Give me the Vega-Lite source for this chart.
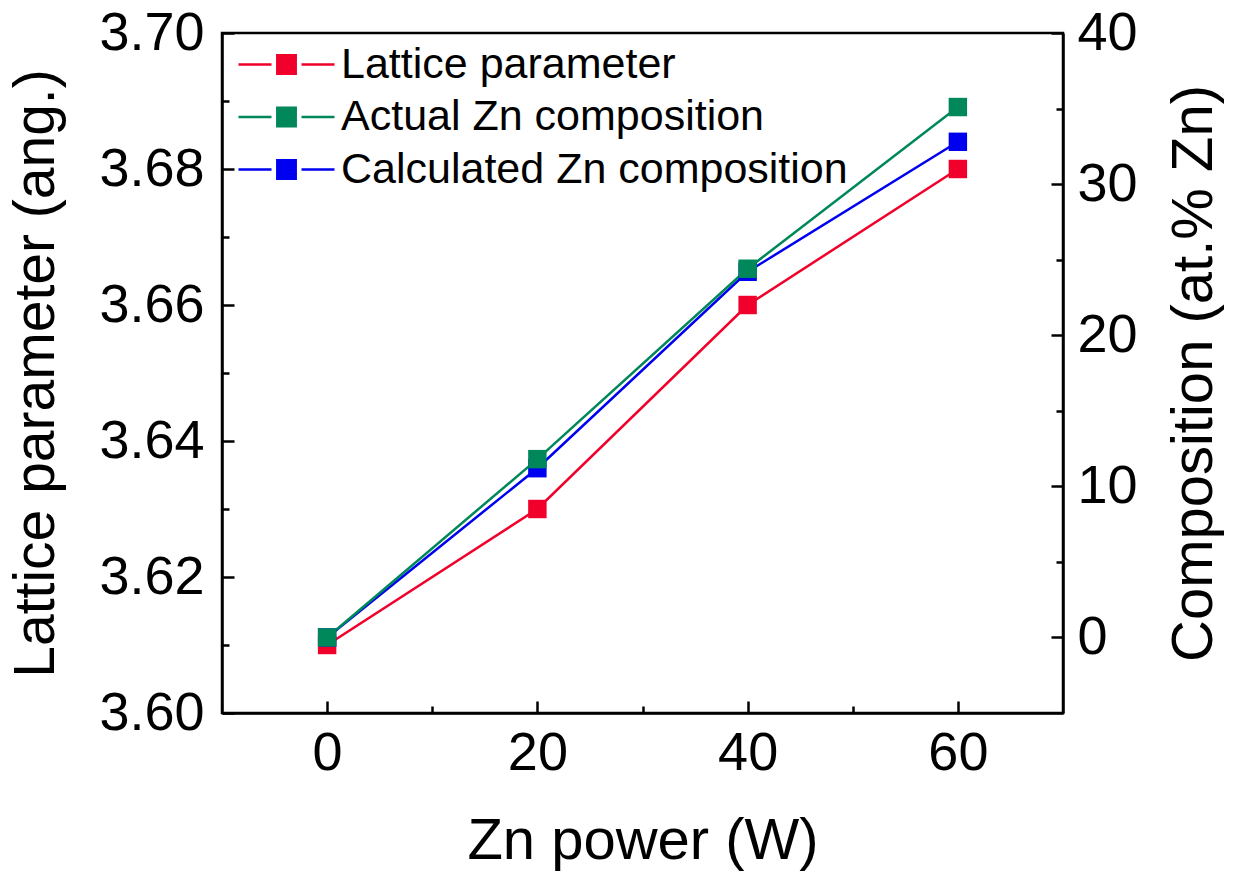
{
  "$schema": "https://vega.github.io/schema/vega-lite/v6.json",
  "width": 841,
  "height": 680,
  "autosize": "none",
  "padding": {"left": 222, "top": 33, "right": 174, "bottom": 163},
  "background": "white",
  "config": {
    "font": "Liberation Sans",
    "view": {"stroke": "black", "strokeWidth": 2.5},
    "axis": {
      "labelFont": "Liberation Sans",
      "titleFont": "Liberation Sans",
      "labelColor": "black",
      "titleColor": "black",
      "domainColor": "black",
      "tickColor": "black",
      "domainWidth": 2.5,
      "tickWidth": 2.5,
      "grid": false,
      "labelFlush": false,
      "labelOverlap": false,
      "titleFontWeight": "normal",
      "labelFontSize": 54,
      "titleFontSize": 57
    },
    "legend": {"labelFont": "Liberation Sans"}
  },
  "datasets": {
    "lattice": [
      {"power": 0, "value": 3.61, "series": "Lattice parameter"},
      {"power": 20, "value": 3.63, "series": "Lattice parameter"},
      {"power": 40, "value": 3.66, "series": "Lattice parameter"},
      {"power": 60, "value": 3.68, "series": "Lattice parameter"}
    ],
    "comp": [
      {"power": 0, "value": 0, "series": "Calculated Zn composition"},
      {"power": 20, "value": 11.2, "series": "Calculated Zn composition"},
      {"power": 40, "value": 24.2, "series": "Calculated Zn composition"},
      {"power": 60, "value": 32.8, "series": "Calculated Zn composition"},
      {"power": 0, "value": 0, "series": "Actual Zn composition"},
      {"power": 20, "value": 11.8, "series": "Actual Zn composition"},
      {"power": 40, "value": 24.4, "series": "Actual Zn composition"},
      {"power": 60, "value": 35.1, "series": "Actual Zn composition"}
    ]
  },
  "layer": [
    {
      "data": {"name": "lattice"},
      "mark": {"type": "line", "strokeWidth": 2.5},
      "encoding": {
        "x": {
          "field": "power", "type": "quantitative",
          "scale": {"domain": [-10, 70], "nice": false, "zero": false},
          "axis": {"orient": "bottom", "values": [0, 20, 40, 60], "tickSize": -12, "labelPadding": 25, "title": "Zn power (W)", "titlePadding": 32, "titleFontSize": 58}
        },
        "y": {
          "field": "value", "type": "quantitative",
          "scale": {"domain": [3.6, 3.7], "nice": false, "zero": false},
          "axis": {"orient": "left", "values": [3.6, 3.62, 3.64, 3.66, 3.68, 3.7], "format": ".2f", "tickSize": -12, "labelPadding": 30, "title": "Lattice parameter (ang.)", "titlePadding": 33}
        },
        "color": {
          "field": "series", "type": "nominal",
          "scale": {"domain": ["Lattice parameter", "Actual Zn composition", "Calculated Zn composition"], "range": ["#F0002A", "#00885A", "#0000F0"]},
          "legend": {
            "orient": "none", "legendX": 43, "legendY": 10,
            "title": null,
            "labelFontSize": 43, "labelColor": "black", "labelOffset": 33, "labelLimit": 0,
            "rowPadding": 8.5,
            "symbolType": "M-4.8,0H-1.5M1.5,0H4.8M-0.92,-0.92H0.92V0.92H-0.92Z",
            "symbolSize": 400,
            "symbolStrokeWidth": 2.5,
            "encode": {"symbols": {"update": {"fill": {"scale": "color", "field": "value"}, "stroke": {"scale": "color", "field": "value"}, "fillOpacity": {"value": 1}, "strokeOpacity": {"value": 1}}}}
          }
        }
      }
    },
    {
      "data": {"name": "lattice"},
      "mark": {"type": "point", "shape": "square", "filled": true, "size": 340, "opacity": 1},
      "encoding": {
        "x": {
          "field": "power", "type": "quantitative",
          "scale": {"domain": [-10, 70], "nice": false, "zero": false},
          "axis": {"orient": "bottom", "values": [10, 30, 50], "tickSize": -7, "labels": false, "domain": false, "title": null}
        },
        "y": {
          "field": "value", "type": "quantitative",
          "scale": {"domain": [3.6, 3.7], "nice": false, "zero": false},
          "axis": {"orient": "left", "values": [3.61, 3.63, 3.65, 3.67, 3.69], "tickSize": -7, "labels": false, "domain": false, "title": null}
        },
        "color": {"field": "series", "type": "nominal"}
      }
    },
    {
      "data": {"name": "comp"},
      "mark": {"type": "line", "strokeWidth": 2.5},
      "encoding": {
        "x": {"field": "power", "type": "quantitative", "scale": {"domain": [-10, 70], "nice": false, "zero": false}, "axis": null},
        "y": {
          "field": "value", "type": "quantitative",
          "scale": {"domain": [-5, 40], "nice": false, "zero": false},
          "axis": {"orient": "right", "values": [0, 10, 20, 30, 40], "tickSize": -12, "labelPadding": 26, "title": "Composition (at.% Zn)", "titlePadding": 28, "titleAngle": -90, "titleBaseline": "top", "titleFontSize": 58}
        },
        "color": {"field": "series", "type": "nominal"}
      }
    },
    {
      "data": {"name": "comp"},
      "mark": {"type": "point", "shape": "square", "filled": true, "size": 340, "opacity": 1},
      "encoding": {
        "x": {"field": "power", "type": "quantitative", "scale": {"domain": [-10, 70], "nice": false, "zero": false}, "axis": null},
        "y": {
          "field": "value", "type": "quantitative",
          "scale": {"domain": [-5, 40], "nice": false, "zero": false},
          "axis": {"orient": "right", "values": [5, 15, 25, 35], "tickSize": -7, "labels": false, "domain": false, "title": null}
        },
        "color": {"field": "series", "type": "nominal"}
      }
    }
  ],
  "resolve": {
    "scale": {"y": "independent"},
    "axis": {"x": "independent", "y": "independent"}
  }
}
